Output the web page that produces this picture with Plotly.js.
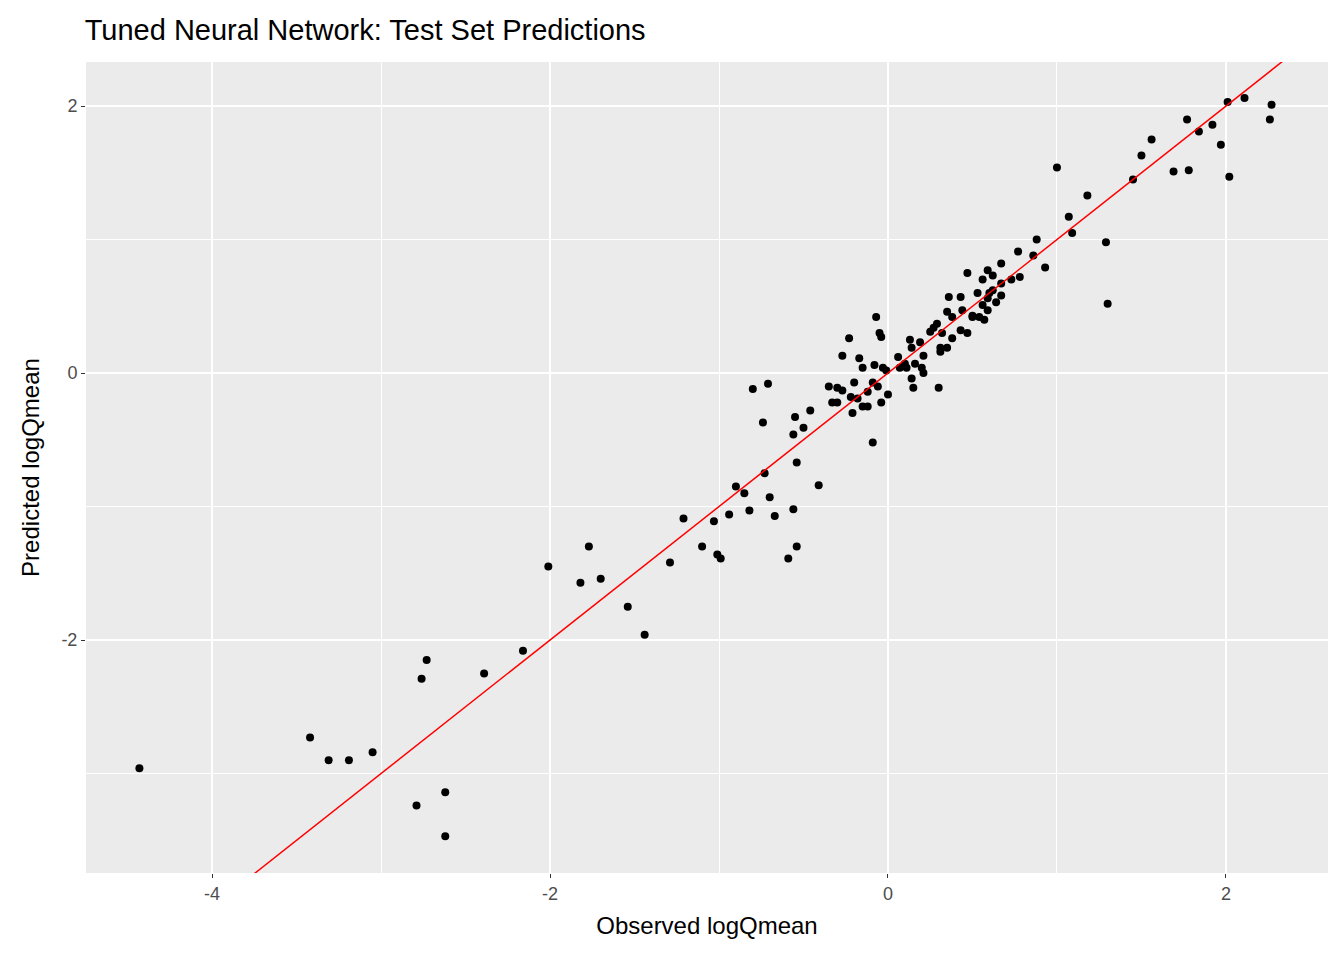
<!DOCTYPE html>
<html>
<head>
<meta charset="utf-8">
<script src="https://cdn.plot.ly/plotly-3.0.1.min.js"></script>
<style>body{margin:0}</style>
</head>
<body>
<div id="chart" style="width:1344px;height:960px"></div>
<script>
// observed vs predicted logQmean
const observed = [
  -4.43,-3.42,-3.31,-3.19,-3.05,-2.79,-2.62,-2.62,-2.76,-2.73,-2.39,-2.16,-2.01,-1.82,-1.77,-1.70,
  -1.54,-1.44,-1.29,-1.21,-1.10,-1.03,-1.01,-0.99,-0.94,-0.90,-0.85,-0.82,-0.80,-0.73,-0.74,-0.71,
  -0.70,-0.67,-0.59,-0.56,-0.56,-0.55,-0.54,-0.54,-0.50,-0.46,-0.41,
  -0.35,-0.33,-0.30,-0.30,-0.27,-0.27,-0.23,-0.22,-0.21,-0.20,-0.18,-0.17,-0.15,-0.15,-0.12,-0.12,
  -0.09,-0.09,-0.08,-0.07,-0.06,-0.05,-0.04,-0.04,-0.03,0.00,-0.01,0.06,0.07,0.10,0.11,0.13,0.14,
  0.14,0.15,0.16,0.19,0.20,0.21,0.21,0.25,0.27,0.29,0.30,0.31,0.31,0.32,0.35,0.35,0.36,0.38,0.38,
  0.43,0.44,0.43,0.47,0.47,0.50,0.50,0.53,0.54,0.56,0.56,0.57,0.59,0.59,0.59,0.60,0.62,0.62,0.64,
  0.67,0.67,0.67,0.73,0.77,0.78,0.86,0.88,0.93,1.00,1.07,1.09,1.18,1.29,1.30,1.45,1.50,1.56,1.69,
  1.77,1.78,1.84,1.92,1.97,2.02,2.01,2.11,2.26,2.27
];
const predicted = [
  -2.96,-2.73,-2.90,-2.90,-2.84,-3.24,-3.14,-3.47,-2.29,-2.15,-2.25,-2.08,-1.45,-1.57,-1.30,-1.54,
  -1.75,-1.96,-1.42,-1.09,-1.30,-1.11,-1.36,-1.39,-1.06,-0.85,-0.90,-1.03,-0.12,-0.75,-0.37,-0.08,
  -0.93,-1.07,-1.39,-1.02,-0.46,-0.33,-0.67,-1.30,-0.41,-0.28,-0.84,
  -0.10,-0.22,-0.22,-0.11,-0.13,0.13,0.26,-0.18,-0.30,-0.07,-0.19,0.11,0.04,-0.25,-0.25,-0.14,
  -0.07,-0.52,0.06,0.42,-0.10,0.30,0.27,-0.22,0.04,-0.16,0.02,0.12,0.04,0.07,0.04,0.25,0.19,
  -0.04,-0.11,0.07,0.23,0.04,0.13,0.00,0.31,0.34,0.37,-0.11,0.19,0.16,0.30,0.19,0.46,0.57,0.26,0.42,
  0.57,0.47,0.32,0.75,0.30,0.43,0.42,0.60,0.42,0.51,0.70,0.40,0.56,0.77,0.47,0.60,0.73,0.62,0.53,
  0.82,0.67,0.58,0.70,0.91,0.72,0.88,1.00,0.79,1.54,1.17,1.05,1.33,0.98,0.52,1.45,1.63,1.75,1.51,
  1.90,1.52,1.81,1.86,1.71,1.47,2.03,2.06,1.90,2.01
];
const lineRange = [-5, 3];
const xTicks = [-4, -2, 0, 2];
const xTickText = ['-4', '-2', '0', '2'];
const yTicks = [-2, 0, 2];
const yTickText = ['-2', '0', '2'];

const font = 'Liberation Sans, Arial';
const axisBase = {
  showline: false, zeroline: false,
  gridcolor: '#FFFFFF', gridwidth: 1.6,
  ticks: 'outside', ticklen: 4, tickcolor: '#333333', tickwidth: 1,
  tickfont: {family: font, size: 18, color: '#4D4D4D'},
  tickmode: 'array',
  minor: {tickmode: 'array', showgrid: true, gridcolor: '#FFFFFF', gridwidth: 0.8, ticks: ''}
};

const data = [
  {x: observed, y: predicted, mode: 'markers', type: 'scatter',
   marker: {color: '#000000', size: 8}},
  {x: lineRange, y: lineRange, mode: 'lines', type: 'scatter',
   line: {color: '#FF0000', width: 1.5}}
];

const layout = {
  width: 1344, height: 960,
  showlegend: false,
  paper_bgcolor: '#FFFFFF', plot_bgcolor: '#EBEBEB',
  margin: {l: 86, r: 16, t: 62, b: 87},
  title: {text: 'Tuned Neural Network: Test Set Predictions', x: 0.063, xanchor: 'left',
          y: 0.969, yanchor: 'middle', font: {family: font, size: 29, color: '#000000'}},
  xaxis: Object.assign({}, axisBase, {range: [-4.746, 2.604],
    tickvals: xTicks, ticktext: xTickText,
    minor: Object.assign({}, axisBase.minor, {tickvals: [-3, -1, 1]}),
    title: {text: 'Observed logQmean', standoff: 14,
            font: {family: font, size: 24, color: '#000000'}}}),
  yaxis: Object.assign({}, axisBase, {range: [-3.745, 2.33],
    tickvals: yTicks, ticktext: yTickText,
    minor: Object.assign({}, axisBase.minor, {tickvals: [-3, -1, 1]}),
    title: {text: 'Predicted logQmean', standoff: 14,
            font: {family: font, size: 24, color: '#000000'}}})
};

Plotly.newPlot('chart', data, layout, {displayModeBar: false});
</script>
</body>
</html>
